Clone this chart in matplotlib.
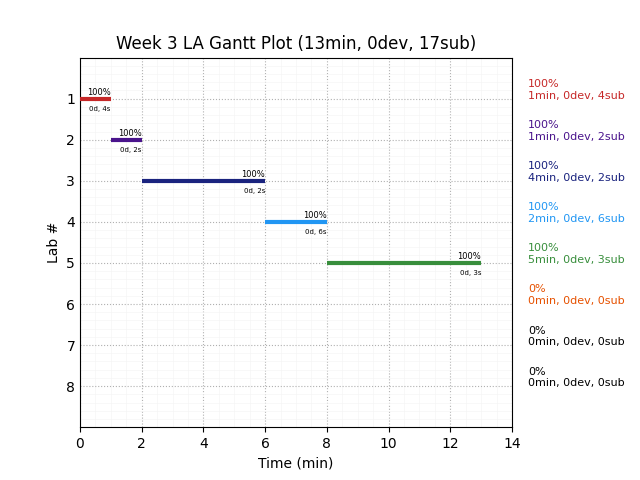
import matplotlib
matplotlib.use("Agg")
import matplotlib.pyplot as plt
from matplotlib.ticker import AutoMinorLocator

# data
labs = [1, 2, 3, 4, 5, 6, 7, 8]
starts = [0, 1, 2, 6, 8, 0, 0, 0]
durations = [1, 1, 4, 2, 5, 0, 0, 0]
pct = ["100%", "100%", "100%", "100%", "100%", "0%", "0%", "0%"]
dev_sub = ["0d, 4s", "0d, 2s", "0d, 2s", "0d, 6s", "0d, 3s", "", "", ""]
summary = ["1min, 0dev, 4sub", "1min, 0dev, 2sub", "4min, 0dev, 2sub",
           "2min, 0dev, 6sub", "5min, 0dev, 3sub", "0min, 0dev, 0sub",
           "0min, 0dev, 0sub", "0min, 0dev, 0sub"]
colors = ["#c62828", "#4a148c", "#1a237e", "#2196f3", "#388e3c",
          "#e65100", "#000000", "#000000"]

fig, ax = plt.subplots(figsize=(6.4, 4.8), dpi=100)
fig.subplots_adjust(left=0.125, right=0.8, top=0.88, bottom=0.11)

for lab, s, d, p, ds, c in zip(labs, starts, durations, pct, dev_sub, colors):
    if d > 0:
        ax.hlines(lab, s, s + d, colors=c, linewidth=3, zorder=3)
        ax.text(s + d, lab - 0.05, p, ha="right", va="bottom", fontsize=6)
        ax.text(s + d, lab + 0.17, ds, ha="right", va="top", fontsize=5)

for lab, p, sm, c in zip(labs, pct, summary, colors):
    ax.text(1.037, lab + 0.05, p + "\n" + sm, color=c, fontsize=8,
            ha="left", va="bottom", transform=ax.get_yaxis_transform())

ax.set_xlim(0, 14)
ax.set_ylim(9, 0)
ax.set_yticks(labs)
ax.xaxis.set_minor_locator(AutoMinorLocator())
ax.yaxis.set_minor_locator(AutoMinorLocator())
ax.grid(which="major", linestyle=":", color="#b0b0b0", linewidth=0.8)
ax.grid(which="minor", linestyle="-", color="#f5f5f5", linewidth=0.5)
ax.tick_params(which="minor", length=0)
ax.tick_params(axis="y", length=0)
ax.set_axisbelow(True)

ax.set_title("Week 3 LA Gantt Plot (13min, 0dev, 17sub)")
ax.set_xlabel("Time (min)")
ax.set_ylabel("Lab #")

fig.savefig("out.png", dpi=100)
